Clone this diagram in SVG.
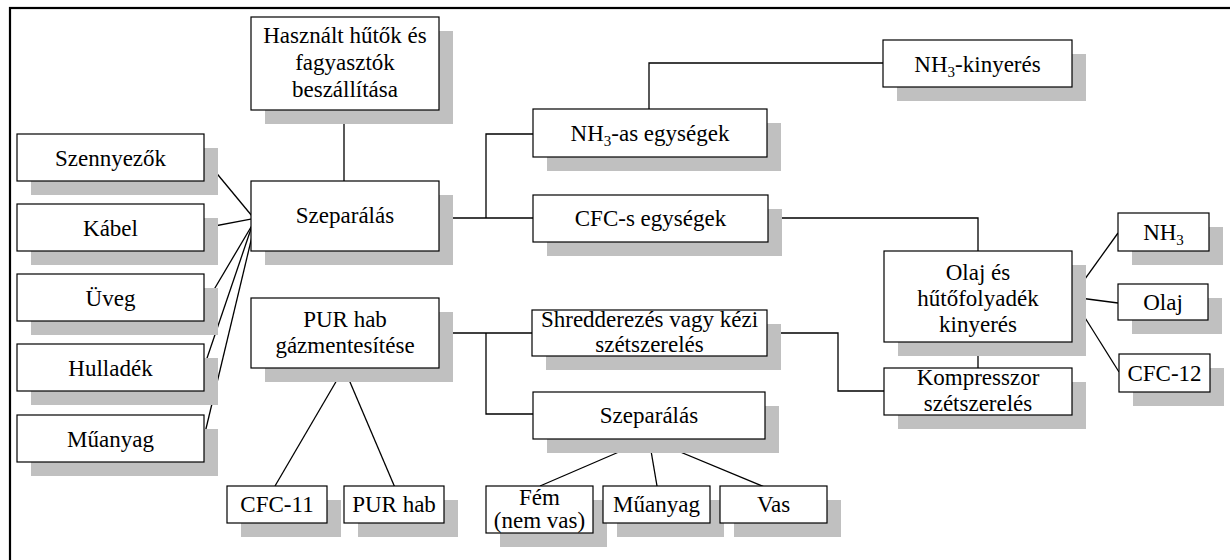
<svg xmlns="http://www.w3.org/2000/svg" width="1230" height="560" viewBox="0 0 1230 560">
  <style>
    .frame { fill: none; stroke: #000; stroke-width: 2.2; }
    .shadow { fill: #c0c0c0; }
    .box { fill: #fff; stroke: #000; stroke-width: 1.2; }
    text { font-family: "Times New Roman", "Liberation Serif", "DejaVu Serif", Times, serif; font-size: 23px; fill: #000; text-anchor: middle; }
    .sub { font-size: 15px; }
    .conn { fill: none; stroke: #000; stroke-width: 1.3; }
  </style>
  <rect width="1230" height="560" fill="#fff"/>
  <rect class="frame" x="10" y="8" width="1240" height="580"/>

  <!-- connectors -->
  <g id="connectors">
    <path class="conn" d="M344 110 V181"/>
    <path class="conn" d="M204 158 L252 216"/>
    <path class="conn" d="M204 228 L257 218"/>
    <path class="conn" d="M209 298 L254 222"/>
    <path class="conn" d="M204 367 L253 223"/>
    <path class="conn" d="M204 437 L255 224"/>
    <path class="conn" d="M439 218 H533"/>
    <path class="conn" d="M486 218 V134 H533"/>
    <path class="conn" d="M649 109 V63 H883"/>
    <path class="conn" d="M768 218 H978 V251"/>
    <path class="conn" d="M1072 297 L1118 233"/>
    <path class="conn" d="M1072 297 L1118 303"/>
    <path class="conn" d="M1072 297 L1119 372"/>
    <path class="conn" d="M978 342 V368"/>
    <path class="conn" d="M439 333 H532"/>
    <path class="conn" d="M486 333 V414 H533"/>
    <path class="conn" d="M767 333 H838 V391 H884"/>
    <path class="conn" d="M344 368 L275 486"/>
    <path class="conn" d="M344 368 L396 490"/>
    <path class="conn" d="M649 439 L540 486"/>
    <path class="conn" d="M649 439 L657 486"/>
    <path class="conn" d="M649 439 L772 490"/>
  </g>

  <!-- nodes -->
  <g id="n-hasznalt">
    <rect class="shadow" x="265" y="31" width="188" height="93"/>
    <rect class="box" x="251" y="17" width="188" height="93"/>
    <text x="345" y="43" font-family="Liberation Serif">Használt hűtők és</text>
    <text x="345" y="70" font-family="Liberation Serif">fagyasztók</text>
    <text x="345" y="97" font-family="Liberation Serif">beszállítása</text>
  </g>
  <g id="n-szennyezok">
    <rect class="shadow" x="31" y="148" width="187" height="47"/>
    <rect class="box" x="17" y="134" width="187" height="47"/>
    <text x="110.5" y="166">Szennyezők</text>
  </g>
  <g id="n-kabel">
    <rect class="shadow" x="31" y="218" width="187" height="47"/>
    <rect class="box" x="17" y="204" width="187" height="47"/>
    <text x="110.5" y="236">Kábel</text>
  </g>
  <g id="n-uveg">
    <rect class="shadow" x="31" y="288" width="187" height="47"/>
    <rect class="box" x="17" y="274" width="187" height="47"/>
    <text x="110.5" y="306">Üveg</text>
  </g>
  <g id="n-hulladek">
    <rect class="shadow" x="31" y="358" width="187" height="47"/>
    <rect class="box" x="17" y="344" width="187" height="47"/>
    <text x="110.5" y="376">Hulladék</text>
  </g>
  <g id="n-muanyag-1">
    <rect class="shadow" x="31" y="429" width="187" height="47"/>
    <rect class="box" x="17" y="415" width="187" height="47"/>
    <text x="110.5" y="447">Műanyag</text>
  </g>
  <g id="n-szeparalas">
    <rect class="shadow" x="265" y="195" width="188" height="70"/>
    <rect class="box" x="251" y="181" width="188" height="70"/>
    <text x="345" y="223">Szeparálás</text>
  </g>
  <g id="n-pur-gazmentesites">
    <rect class="shadow" x="265" y="312" width="188" height="70"/>
    <rect class="box" x="251" y="298" width="188" height="70"/>
    <text x="345" y="327">PUR hab</text>
    <text x="345" y="353">gázmentesítése</text>
  </g>
  <g id="n-nh3-egysegek">
    <rect class="shadow" x="547" y="123" width="234" height="48"/>
    <rect class="box" x="533" y="109" width="234" height="48"/>
    <text x="650" y="141">NH<tspan class="sub" dy="5">3</tspan><tspan dy="-5">-as egységek</tspan></text>
  </g>
  <g id="n-nh3-kinyeres">
    <rect class="shadow" x="897" y="54" width="189" height="47"/>
    <rect class="box" x="883" y="40" width="189" height="47"/>
    <text x="977.5" y="72">NH<tspan class="sub" dy="5">3</tspan><tspan dy="-5">-kinyerés</tspan></text>
  </g>
  <g id="n-cfc-egysegek">
    <rect class="shadow" x="547" y="209" width="235" height="47"/>
    <rect class="box" x="533" y="195" width="235" height="47"/>
    <text x="650.5" y="226">CFC-s egységek</text>
  </g>
  <g id="n-olaj-hutofolyadek">
    <rect class="shadow" x="898" y="265" width="188" height="91"/>
    <rect class="box" x="884" y="251" width="188" height="91"/>
    <text x="978" y="280">Olaj és</text>
    <text x="978" y="306">hűtőfolyadék</text>
    <text x="978" y="332">kinyerés</text>
  </g>
  <g id="n-nh3">
    <rect class="shadow" x="1132" y="227" width="91" height="38"/>
    <rect class="box" x="1118" y="213" width="91" height="38"/>
    <text x="1163.5" y="240">NH<tspan class="sub" dy="5">3</tspan></text>
  </g>
  <g id="n-olaj">
    <rect class="shadow" x="1132" y="298" width="90" height="36"/>
    <rect class="box" x="1118" y="284" width="90" height="36"/>
    <text x="1163" y="310">Olaj</text>
  </g>
  <g id="n-cfc12">
    <rect class="shadow" x="1133" y="368" width="91" height="38"/>
    <rect class="box" x="1119" y="354" width="91" height="38"/>
    <text x="1164.5" y="381">CFC-12</text>
  </g>
  <g id="n-kompresszor">
    <rect class="shadow" x="898" y="382" width="188" height="47"/>
    <rect class="box" x="884" y="368" width="188" height="47"/>
    <text x="978" y="385">Kompresszor</text>
    <text x="978" y="411">szétszerelés</text>
  </g>
  <g id="n-shredderezes">
    <rect class="shadow" x="546" y="324" width="235" height="46"/>
    <rect class="box" x="532" y="310" width="235" height="46"/>
    <text x="649.5" y="327">Shredderezés vagy kézi</text>
    <text x="649.5" y="352">szétszerelés</text>
  </g>
  <g id="n-szeparalas-2">
    <rect class="shadow" x="547" y="406" width="232" height="47"/>
    <rect class="box" x="533" y="392" width="232" height="47"/>
    <text x="649" y="423">Szeparálás</text>
  </g>
  <g id="n-fem">
    <rect class="shadow" x="500" y="500" width="107" height="47"/>
    <rect class="box" x="486" y="486" width="107" height="47"/>
    <text x="539.5" y="505">Fém</text>
    <text x="539.5" y="528">(nem vas)</text>
  </g>
  <g id="n-muanyag-2">
    <rect class="shadow" x="617" y="500" width="107" height="37"/>
    <rect class="box" x="603" y="486" width="107" height="37"/>
    <text x="656.5" y="512">Műanyag</text>
  </g>
  <g id="n-vas">
    <rect class="shadow" x="734" y="500" width="107" height="37"/>
    <rect class="box" x="720" y="486" width="107" height="37"/>
    <text x="773.5" y="512">Vas</text>
  </g>
  <g id="n-cfc11">
    <rect class="shadow" x="241" y="500" width="100" height="37"/>
    <rect class="box" x="227" y="486" width="100" height="37"/>
    <text x="277" y="512">CFC-11</text>
  </g>
  <g id="n-pur-hab">
    <rect class="shadow" x="358" y="500" width="100" height="37"/>
    <rect class="box" x="344" y="486" width="100" height="37"/>
    <text x="394" y="512">PUR hab</text>
  </g>
</svg>
